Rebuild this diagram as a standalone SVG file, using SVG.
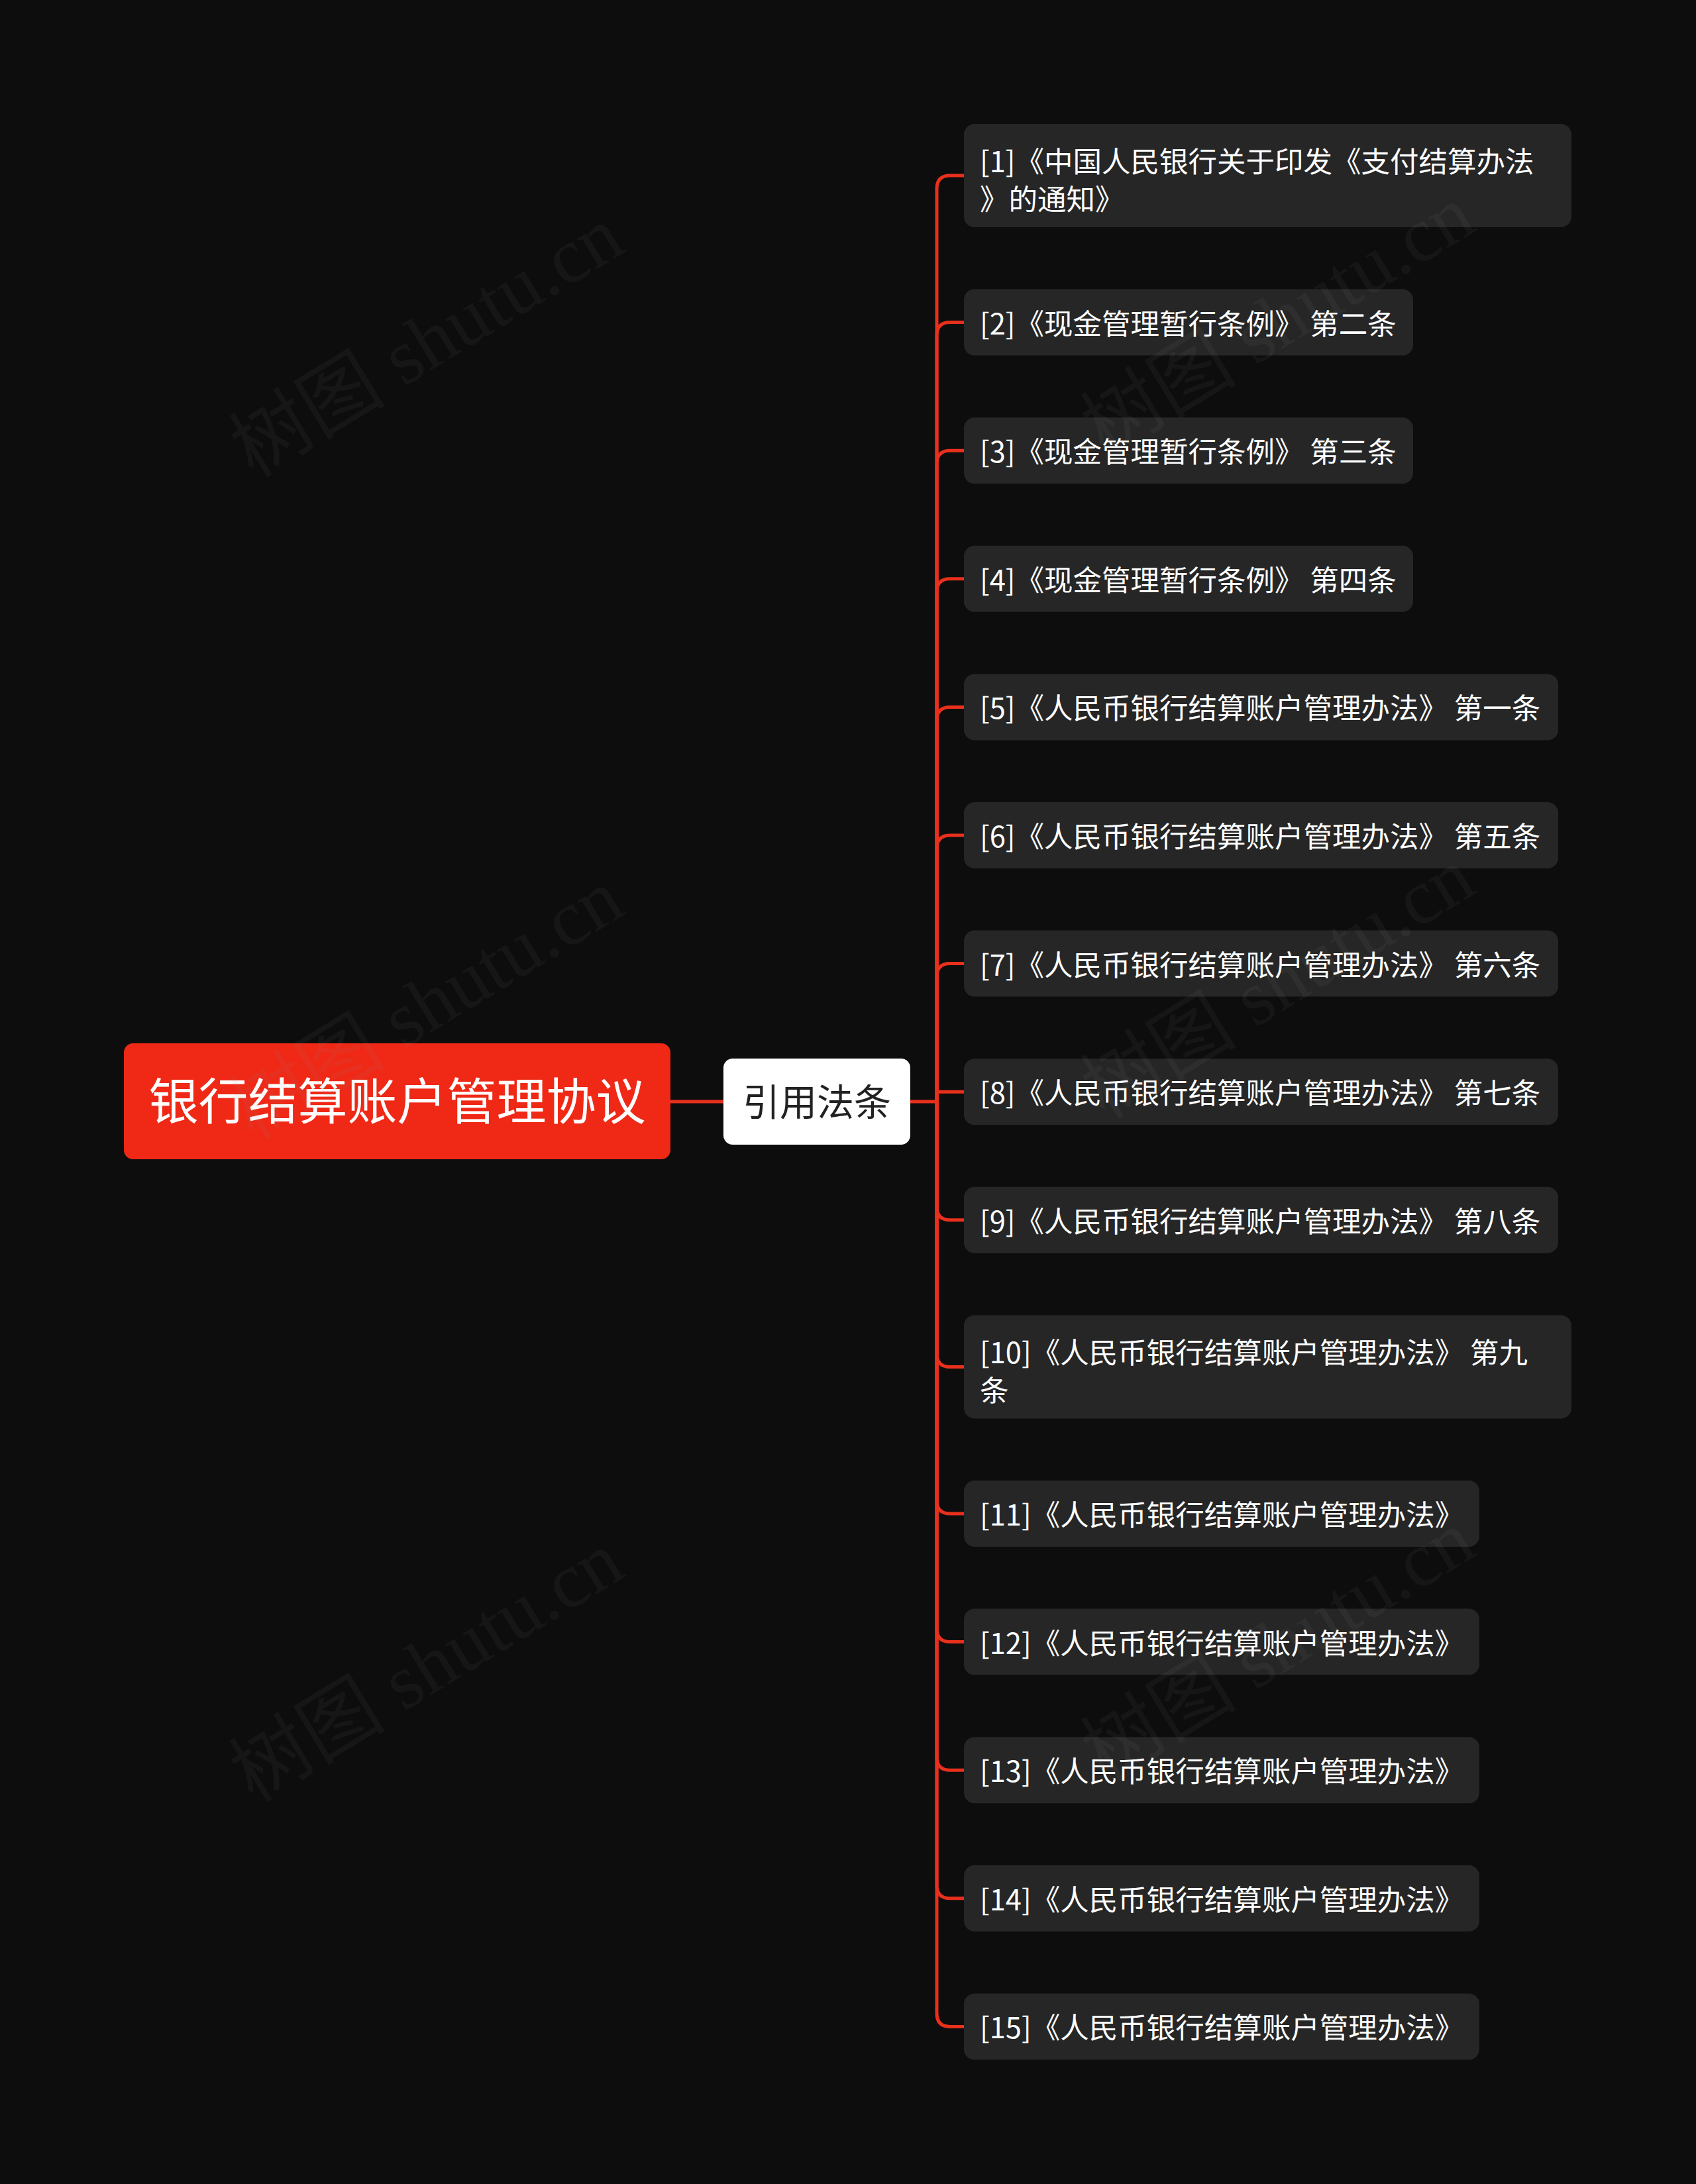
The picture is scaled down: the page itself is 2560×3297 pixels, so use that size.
<svg xmlns="http://www.w3.org/2000/svg" width="2560" height="3297" viewBox="0 0 2560 3297">
<defs>
<style>
.bg{fill:#0d0d0d}
.root rect{fill:#ef2916}
.root text{fill:#ffffff;font-family:"Noto Sans CJK SC","Noto Sans",sans-serif;font-size:75px;text-anchor:middle}
.sub rect{fill:#ffffff}
.sub text{fill:#222222;font-family:"Noto Sans CJK SC","Noto Sans",sans-serif;font-size:56px;text-anchor:middle}
.leaf rect{fill:#262626}
.leaf text{fill:#ffffff;font-family:"Noto Sans CJK SC","Noto Sans",sans-serif;font-size:43.5px}
.conn path{fill:none;stroke:#e8301c;stroke-width:5;stroke-linecap:round}
.wm{fill:#888888;fill-opacity:0.08;font-family:"Liberation Serif","Noto Sans CJK SC",serif;font-size:118px}
</style>
</defs>
<rect class="bg" x="0" y="0" width="2560" height="3297"/>
<g id="connectors" class="conn">
<path d="M1012,1663 H1092"/>
<path d="M1374,1663 H1414"/>
<path d="M1414,1663 V285 Q1414,265 1434,265 H1455"/>
<path d="M1414,1663 V506.6 Q1414,486.6 1434,486.6 H1455"/>
<path d="M1414,1663 V700.2 Q1414,680.2 1434,680.2 H1455"/>
<path d="M1414,1663 V893.8 Q1414,873.8 1434,873.8 H1455"/>
<path d="M1414,1663 V1087.4 Q1414,1067.4 1434,1067.4 H1455"/>
<path d="M1414,1663 V1281 Q1414,1261 1434,1261 H1455"/>
<path d="M1414,1663 V1474.6 Q1414,1454.6 1434,1454.6 H1455"/>
<path d="M1414,1663 V1648.2 H1455"/>
<path d="M1414,1663 V1821.8 Q1414,1841.8 1434,1841.8 H1455"/>
<path d="M1414,1663 V2043.4 Q1414,2063.4 1434,2063.4 H1455"/>
<path d="M1414,1663 V2265 Q1414,2285 1434,2285 H1455"/>
<path d="M1414,1663 V2458.6 Q1414,2478.6 1434,2478.6 H1455"/>
<path d="M1414,1663 V2652.2 Q1414,2672.2 1434,2672.2 H1455"/>
<path d="M1414,1663 V2845.8 Q1414,2865.8 1434,2865.8 H1455"/>
<path d="M1414,1663 V3039.4 Q1414,3059.4 1434,3059.4 H1455"/>
</g>
<g id="root" class="root"><rect x="187" y="1575" width="825" height="175" rx="14"/><text x="599.5" y="1690">银行结算账户管理协议</text></g>
<g id="sub" class="sub"><rect x="1092" y="1598" width="282" height="130" rx="14"/><text x="1233" y="1684">引用法条</text></g>
<g id="leaf1" class="leaf"><rect x="1455" y="187" width="917" height="156" rx="16"/><text x="1479" y="260">[1]《中国人民银行关于印发《支付结算办法</text><text x="1479" y="317">》的通知》</text></g>
<g id="leaf2" class="leaf"><rect x="1455" y="436.6" width="678" height="100" rx="16"/><text x="1479" y="504.6">[2]《现金管理暂行条例》 第二条</text></g>
<g id="leaf3" class="leaf"><rect x="1455" y="630.2" width="678" height="100" rx="16"/><text x="1479" y="698.2">[3]《现金管理暂行条例》 第三条</text></g>
<g id="leaf4" class="leaf"><rect x="1455" y="823.8" width="678" height="100" rx="16"/><text x="1479" y="891.8">[4]《现金管理暂行条例》 第四条</text></g>
<g id="leaf5" class="leaf"><rect x="1455" y="1017.4" width="897" height="100" rx="16"/><text x="1479" y="1085.4">[5]《人民币银行结算账户管理办法》 第一条</text></g>
<g id="leaf6" class="leaf"><rect x="1455" y="1211" width="897" height="100" rx="16"/><text x="1479" y="1279">[6]《人民币银行结算账户管理办法》 第五条</text></g>
<g id="leaf7" class="leaf"><rect x="1455" y="1404.6" width="897" height="100" rx="16"/><text x="1479" y="1472.6">[7]《人民币银行结算账户管理办法》 第六条</text></g>
<g id="leaf8" class="leaf"><rect x="1455" y="1598.2" width="897" height="100" rx="16"/><text x="1479" y="1666.2">[8]《人民币银行结算账户管理办法》 第七条</text></g>
<g id="leaf9" class="leaf"><rect x="1455" y="1791.8" width="897" height="100" rx="16"/><text x="1479" y="1859.8">[9]《人民币银行结算账户管理办法》 第八条</text></g>
<g id="leaf10" class="leaf"><rect x="1455" y="1985.4" width="917" height="156" rx="16"/><text x="1479" y="2058.4">[10]《人民币银行结算账户管理办法》 第九</text><text x="1479" y="2115.4">条</text></g>
<g id="leaf11" class="leaf"><rect x="1455" y="2235" width="778" height="100" rx="16"/><text x="1479" y="2303">[11]《人民币银行结算账户管理办法》</text></g>
<g id="leaf12" class="leaf"><rect x="1455" y="2428.6" width="778" height="100" rx="16"/><text x="1479" y="2496.6">[12]《人民币银行结算账户管理办法》</text></g>
<g id="leaf13" class="leaf"><rect x="1455" y="2622.2" width="778" height="100" rx="16"/><text x="1479" y="2690.2">[13]《人民币银行结算账户管理办法》</text></g>
<g id="leaf14" class="leaf"><rect x="1455" y="2815.8" width="778" height="100" rx="16"/><text x="1479" y="2883.8">[14]《人民币银行结算账户管理办法》</text></g>
<g id="leaf15" class="leaf"><rect x="1455" y="3009.4" width="778" height="100" rx="16"/><text x="1479" y="3077.4">[15]《人民币银行结算账户管理办法》</text></g>
<g id="watermarks">
<text class="wm" transform="translate(644,516) rotate(-31.4)" text-anchor="middle" dy="40">树图 shutu.cn</text>
<text class="wm" transform="translate(644,1516) rotate(-31.4)" text-anchor="middle" dy="40">树图 shutu.cn</text>
<text class="wm" transform="translate(644,2516) rotate(-31.4)" text-anchor="middle" dy="40">树图 shutu.cn</text>
<text class="wm" transform="translate(1929,484) rotate(-31.4)" text-anchor="middle" dy="40">树图 shutu.cn</text>
<text class="wm" transform="translate(1929,1484) rotate(-31.4)" text-anchor="middle" dy="40">树图 shutu.cn</text>
<text class="wm" transform="translate(1929,2484) rotate(-31.4)" text-anchor="middle" dy="40">树图 shutu.cn</text>
</g>
</svg>
